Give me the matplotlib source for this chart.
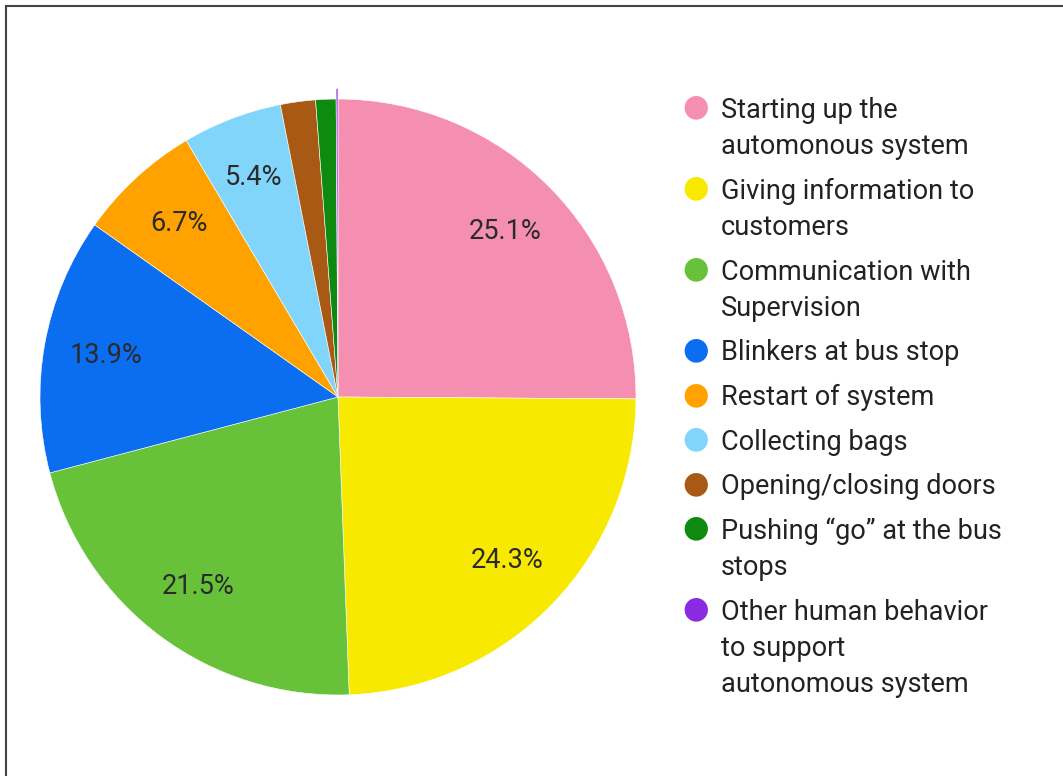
import matplotlib.pyplot as plt
from matplotlib.lines import Line2D

labels = ["Starting up the\nautomonous system",
          "Giving information to\ncustomers",
          "Communication with\nSupervision",
          "Blinkers at bus stop",
          "Restart of system",
          "Collecting bags",
          "Opening/closing doors",
          "Pushing \u201cgo\u201d at the bus\nstops",
          "Other human behavior\nto support\nautonomous system"]
values = [25.1, 24.3, 21.5, 13.9, 6.7, 5.4, 1.9, 1.1, 0.1]
colors = ["#f48fb1", "#f7ea00", "#67c23a", "#0b6ef0", "#ffa200",
          "#81d4fa", "#a85a14", "#0f8a10", "#8a2be2"]

plt.rcParams['font.family'] = ['Roboto', 'DejaVu Sans']

fig = plt.figure(figsize=(10.63, 7.76), dpi=100)

# frame (only top and left edges visible in the screenshot)
fig.add_artist(Line2D([6/1063, 6/1063], [0, 1 - 6/776], color="#444444", lw=1.5))
fig.add_artist(Line2D([6/1063, 1], [1 - 6/776, 1 - 6/776], color="#444444", lw=1.5))

ax = fig.add_axes([0.0376, 0.1044, 0.5607, 0.768])
explode = [0, 0, 0, 0, 0, 0, 0, 0, 0.035]
wedges, texts, autotexts = ax.pie(values, colors=colors, startangle=90, counterclock=False,
                                  explode=explode,
                                  autopct=lambda p: f"{p:.1f}%" if p >= 5 else "",
                                  pctdistance=0.79,
                                  wedgeprops=dict(linewidth=0.4, edgecolor="white"),
                                  textprops=dict(fontsize=19.5, color="#2a2a2a"))
ax.set_xlim(-1, 1)
ax.set_ylim(-1, 1)
ax.set_aspect("equal")

# legend drawn by hand so the marker sits on the first line of each entry
line_h = 36.5
step = 44.5
y = 107
for lab, col in zip(labels, colors):
    fig.text(696/1063, 1 - y/776, "\u25cf", color=col, fontsize=22,
             ha="center", va="center", family=['DejaVu Sans'])
    lines = lab.split("\n")
    for i, ln in enumerate(lines):
        fig.text(721/1063, 1 - (y + 3 + i * line_h)/776, ln, color="#222222", fontsize=19.5,
                 ha="left", va="center")
    y += line_h * (len(lines) - 1) + step

fig.savefig("out.png", dpi=100)
